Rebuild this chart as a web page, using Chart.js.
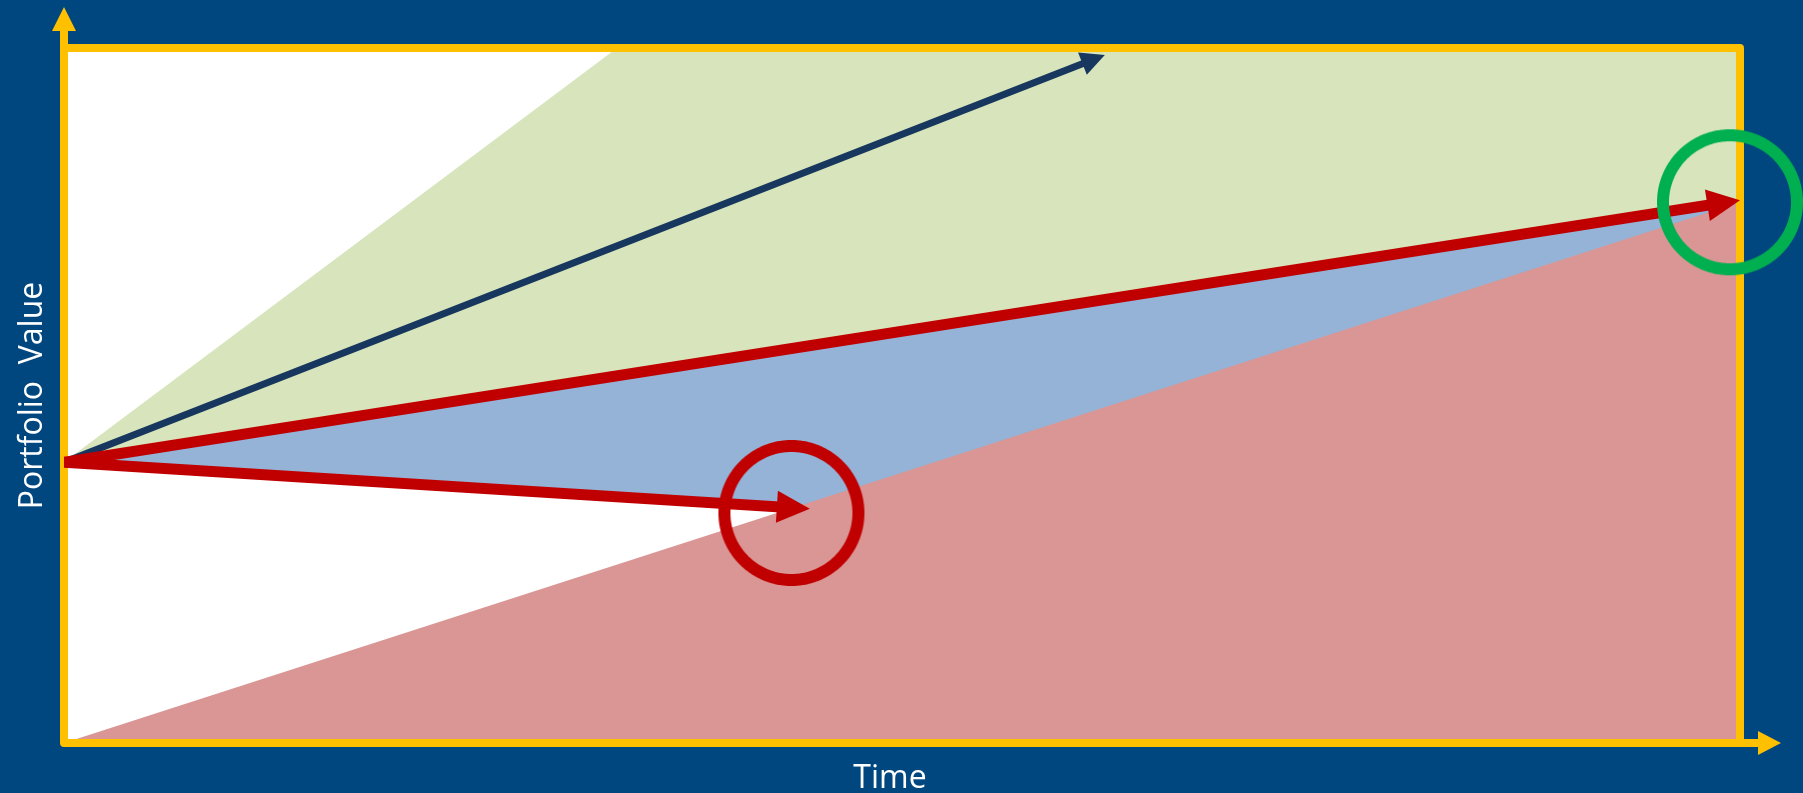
<!DOCTYPE html>
<html>
<head>
<meta charset="utf-8">
<script src="https://cdn.jsdelivr.net/npm/chart.js@4.4.1/dist/chart.umd.min.js"></script>
<style>
  html, body { margin: 0; padding: 0; background: #00467f; }
  canvas { display: block; }
</style>
</head>
<body>
<canvas id="myChart" width="1803" height="793"></canvas>
<script>
// time and portfolio value both run 0..100 (the original has no tick labels)
const startValue = 40.4;

const upsideTime = [0, 33, 100];
const upsideValue = [startValue, 100, 100];

const expectedTime = [0, 100];
const expectedValue = [startValue, 78.1];

const shortfallTime = [0, 44.5];
const shortfallValue = [startValue, 33.7];

const floorTime = [0, 100];
const floorValue = [0, 77.8];

const bestTime = [0, 62.1];
const bestValue = [startValue, 99];

const redCircle = [{x: 43.4, y: 33.1}];
const greenCircle = [{x: 99.4, y: 77.8}];

const xTitle = "Time";
const yTitle = "Portfolio  Value";

const NAVY_BG = '#00467f';
const YELLOW = '#ffc000';
const RED = '#c00000';
const DARK = '#17375e';

const toPoints = (times, values) => times.map((t, i) => ({x: t, y: values[i]}));

// ring marker used as a point style (many short segments so it stays round)
const makeRing = (color, radius, width) => {
  const size = Math.ceil(2 * radius + width + 4);
  const c = document.createElement('canvas');
  c.width = size;
  c.height = size;
  const g = c.getContext('2d');
  const steps = 360;
  g.fillStyle = color;
  g.beginPath();
  for (let i = 0; i <= steps; i++) {
    const a = i / steps * Math.PI * 2;
    const px = size / 2 + Math.cos(a) * (radius + width / 2);
    const py = size / 2 + Math.sin(a) * (radius + width / 2);
    if (i === 0) g.moveTo(px, py); else g.lineTo(px, py);
  }
  for (let i = steps; i >= 0; i--) {
    const a = i / steps * Math.PI * 2;
    g.lineTo(size / 2 + Math.cos(a) * (radius - width / 2), size / 2 + Math.sin(a) * (radius - width / 2));
  }
  g.closePath();
  g.fill('evenodd');
  return c;
};

// geometry of an arrow head at the last point of a dataset
const headGeometry = (meta) => {
  const pts = meta.data;
  const p1 = pts[pts.length - 2], p2 = pts[pts.length - 1];
  const len = Math.hypot(p2.x - p1.x, p2.y - p1.y);
  const dx = (p2.x - p1.x) / len, dy = (p2.y - p1.y) / len;
  return {tip: p2, dx: dx, dy: dy, nx: -dy, ny: dx};
};

const arrowPlugin = {
  id: 'arrows',
  beforeDatasetDraw(chart, args) {
    const head = chart.data.datasets[args.index].arrowHead;
    if (!head) return;
    const ctx = chart.ctx;
    const g = headGeometry(args.meta);
    const bx = g.tip.x - g.dx * (head.length - 2), by = g.tip.y - g.dy * (head.length - 2);
    const big = 5000;
    ctx.save();
    ctx.beginPath();
    ctx.moveTo(bx + g.nx * big, by + g.ny * big);
    ctx.lineTo(bx - g.nx * big, by - g.ny * big);
    ctx.lineTo(bx - g.nx * big - g.dx * big, by - g.ny * big - g.dy * big);
    ctx.lineTo(bx + g.nx * big - g.dx * big, by + g.ny * big - g.dy * big);
    ctx.closePath();
    ctx.clip();
  },
  afterDatasetDraw(chart, args) {
    const ds = chart.data.datasets[args.index];
    const head = ds.arrowHead;
    if (!head) return;
    const ctx = chart.ctx;
    ctx.restore();
    const g = headGeometry(args.meta);
    const bx = g.tip.x - g.dx * head.length, by = g.tip.y - g.dy * head.length;
    ctx.save();
    ctx.fillStyle = ds.borderColor;
    ctx.beginPath();
    ctx.moveTo(g.tip.x, g.tip.y);
    ctx.lineTo(bx + g.nx * head.half, by + g.ny * head.half);
    ctx.lineTo(bx - g.nx * head.half, by - g.ny * head.half);
    ctx.closePath();
    ctx.fill();
    ctx.restore();
  }
};

const framePlugin = {
  id: 'frame',
  beforeDraw(chart) {
    const {ctx, chartArea: a} = chart;
    ctx.save();
    ctx.fillStyle = NAVY_BG;
    ctx.fillRect(0, 0, chart.width, chart.height);
    ctx.fillStyle = '#ffffff';
    ctx.fillRect(a.left, a.top, a.right - a.left, a.bottom - a.top);
    ctx.restore();
  },
  beforeDatasetsDraw(chart) {
    const {ctx, chartArea: a} = chart;
    ctx.save();
    ctx.strokeStyle = YELLOW;
    ctx.lineWidth = 8;
    ctx.lineJoin = 'round';
    ctx.beginPath();
    ctx.moveTo(a.left, a.top);
    ctx.lineTo(a.right, a.top);
    ctx.lineTo(a.right, a.bottom);
    ctx.stroke();
    ctx.beginPath();
    ctx.moveTo(a.left, 28);
    ctx.lineTo(a.left, a.bottom);
    ctx.lineTo(a.right + 22, a.bottom);
    ctx.stroke();
    ctx.fillStyle = YELLOW;
    ctx.beginPath();
    ctx.moveTo(a.left, 7);
    ctx.lineTo(a.left - 12, 31);
    ctx.lineTo(a.left + 12, 31);
    ctx.closePath();
    ctx.fill();
    ctx.beginPath();
    ctx.moveTo(a.right + 41, a.bottom);
    ctx.lineTo(a.right + 18, a.bottom - 12);
    ctx.lineTo(a.right + 18, a.bottom + 12);
    ctx.closePath();
    ctx.fill();
    ctx.restore();
  },
  afterDraw(chart) {
    const {ctx, chartArea: a} = chart;
    ctx.save();
    ctx.fillStyle = '#ffffff';
    ctx.font = '32px "Open Sans"';
    ctx.textAlign = 'center';
    ctx.textBaseline = 'alphabetic';
    ctx.fillText(xTitle, (a.left + a.right) / 2 - 12, 788);
    ctx.translate(42, (a.top + a.bottom) / 2);
    ctx.rotate(-Math.PI / 2);
    ctx.fillText(yTitle, 0, 0);
    ctx.restore();
  }
};

const lineDefaults = {type: 'line', pointRadius: 0, tension: 0, borderCapStyle: 'butt'};
const ringDefaults = {type: 'scatter', showLine: false, pointRadius: 70, clip: false};

const ctx = document.getElementById('myChart').getContext('2d');
const chart = new Chart(ctx, {
  type: 'line',
  data: {
    datasets: [
      Object.assign({}, lineDefaults, {
        label: 'Upside range', data: toPoints(upsideTime, upsideValue),
        borderWidth: 0, borderColor: 'rgba(0,0,0,0)', backgroundColor: '#d8e4bc', fill: 'start', order: 6
      }),
      Object.assign({}, lineDefaults, {
        label: 'Expected path', data: toPoints(expectedTime, expectedValue),
        borderWidth: 11, borderColor: RED, backgroundColor: '#95b3d7', fill: 'start', order: 5,
        arrowHead: {length: 33, half: 16}
      }),
      Object.assign({}, lineDefaults, {
        label: 'Shortfall path', data: toPoints(shortfallTime, shortfallValue),
        borderWidth: 11, borderColor: RED, backgroundColor: '#ffffff', fill: 'start', order: 4,
        arrowHead: {length: 33, half: 16}
      }),
      Object.assign({}, lineDefaults, {
        label: 'Floor', data: toPoints(floorTime, floorValue),
        borderWidth: 0, borderColor: 'rgba(0,0,0,0)', backgroundColor: '#d99694', fill: 'start', order: 3
      }),
      Object.assign({}, lineDefaults, {
        label: 'Best case', data: toPoints(bestTime, bestValue),
        borderWidth: 7, borderColor: DARK, fill: false, order: 7,
        arrowHead: {length: 24, half: 12}
      }),
      Object.assign({}, ringDefaults, {
        label: 'Shortfall mark', data: redCircle, pointStyle: makeRing(RED, 67, 12), order: 1
      }),
      Object.assign({}, ringDefaults, {
        label: 'Target mark', data: greenCircle, pointStyle: makeRing('#00b050', 67, 12), order: 0
      })
    ]
  },
  options: {
    responsive: false,
    animation: false,
    events: [],
    layout: {autoPadding: false, padding: {left: 64, right: 63, top: 48, bottom: 50}},
    scales: {
      x: {type: 'linear', min: 0, max: 100, display: false},
      y: {type: 'linear', min: 0, max: 100, display: false}
    },
    plugins: {
      legend: {display: false},
      tooltip: {enabled: false},
      filler: {drawTime: 'beforeDatasetsDraw'}
    }
  },
  plugins: [framePlugin, arrowPlugin]
});
</script>
</body>
</html>
